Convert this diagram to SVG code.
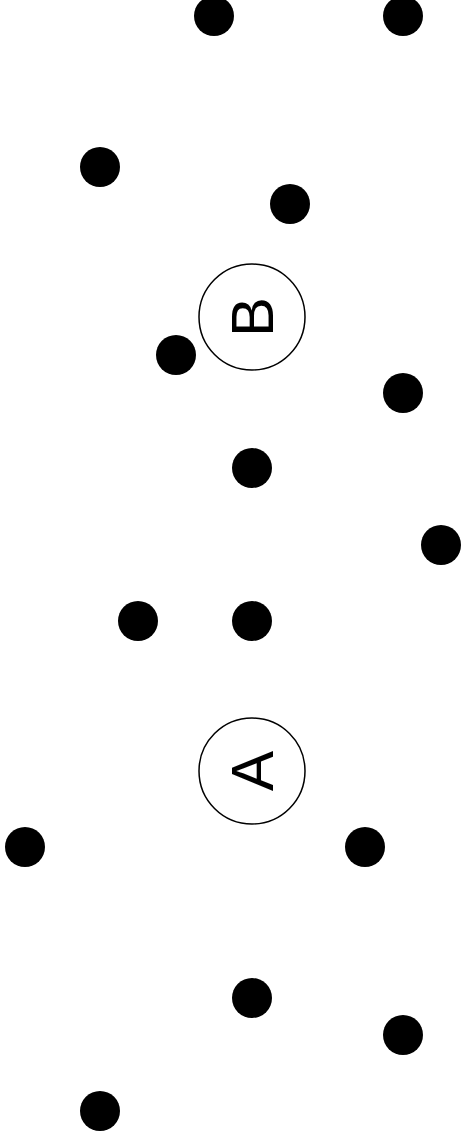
<svg xmlns="http://www.w3.org/2000/svg" width="462" height="1145" viewBox="0 0 462 1145">
<style>
.dot{fill:#000}
.ring{fill:#fff;stroke:#000;stroke-width:1.5}
.lbl{font-family:"Liberation Sans",Arial,sans-serif;font-size:60px;fill:#000;text-anchor:middle;dominant-baseline:central}
</style>
<rect width="462" height="1145" fill="#fff"/>
<g id="connectors"></g>
<g id="dots">
<circle class="dot" cx="214" cy="16" r="20"/>
<circle class="dot" cx="403" cy="16" r="20"/>
<circle class="dot" cx="100" cy="167" r="20"/>
<circle class="dot" cx="290" cy="204" r="20"/>
<circle class="dot" cx="176" cy="355" r="20"/>
<circle class="dot" cx="403" cy="393" r="20"/>
<circle class="dot" cx="252" cy="468" r="20"/>
<circle class="dot" cx="441" cy="545" r="20"/>
<circle class="dot" cx="138" cy="621" r="20"/>
<circle class="dot" cx="252" cy="621" r="20"/>
<circle class="dot" cx="25" cy="847" r="20"/>
<circle class="dot" cx="365" cy="847" r="20"/>
<circle class="dot" cx="252" cy="998" r="20"/>
<circle class="dot" cx="403" cy="1035" r="20"/>
<circle class="dot" cx="100" cy="1111" r="20"/>
</g>
<g id="nodeB">
<circle class="ring" cx="252" cy="317" r="53"/>
<text class="lbl" transform="translate(252 317) rotate(-90)">B</text>
</g>
<g id="nodeA">
<circle class="ring" cx="252" cy="771" r="53"/>
<text class="lbl" transform="translate(252 771) rotate(-90)">A</text>
</g>
</svg>
